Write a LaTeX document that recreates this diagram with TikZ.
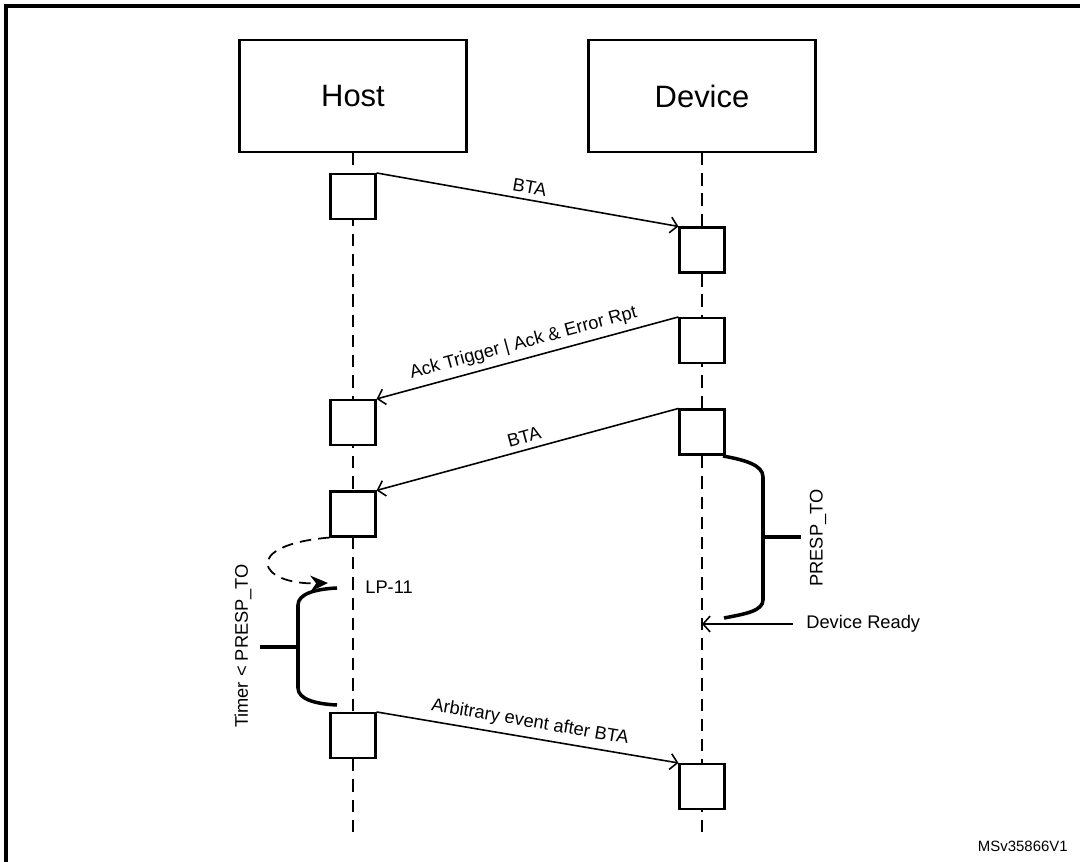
\documentclass[tikz,border=0pt]{standalone}
\usepackage{fontspec}
\setmainfont{Liberation Sans}
\usetikzlibrary{arrows.meta}
\tikzset{
  head/.style={draw,line width=1.2pt,minimum width=4.54cm,minimum height=2.24cm,inner sep=0pt,font=\fontsize{17.6}{20}\selectfont},
  act/.style={draw,fill=white,line width=1.2pt,minimum size=0.9cm,inner sep=0pt},
  lifeline/.style={line width=1pt,dash pattern=on 7pt off 4.5pt},
  msg/.style={line width=0.9pt,-{Straight Barb[length=4pt,width=9pt]}},
  lbl/.style={font=\fontsize{10.4}{12}\selectfont},
  bracket/.style={line width=2pt}
}
\newcommand*\actbox[3]{\node[act] (#1) at (#2,#3) {};}

\begin{document}
\begin{tikzpicture}[x=0.02cm,y=-0.02cm]
\useasboundingbox (0,0) rectangle (1080,862);

% frame
\draw[line width=2.2pt] (6,862) -- (6,6) -- (1080,6);

% heads and lifelines
\node[head] (host) at (353,96) {Host};
\node[head] (dev) at (702,96) {Device};
\coordinate (hostend) at (353,840);
\coordinate (devend) at (702,840);
\draw[lifeline] (host.south) -- (hostend);
\draw[lifeline] (dev.south) -- (devend);

% activation boxes
\foreach \n/\x/\y in {h1/353/196.5, d1/702/250, d2/702/340.5, h2/353/422.5,
                      d3/702/432, h3/353/514, h4/353/735.5, d4/702/786.5}
  {\actbox{\n}{\x}{\y}}

% messages
\draw[msg] (h1.north east) -- node[lbl,sloped,above] (bta1) {BTA} (d1.north west);
\draw[msg] (d2.north west) -- node[lbl,sloped,above] (ack) {Ack Trigger | Ack \& Error Rpt} (h2.north east);
\draw[msg] (d3.north west) -- node[lbl,sloped,above] (bta2) {BTA} (h3.north east);
\draw[msg] (h4.north east) -- node[lbl,sloped,above] (arb) {Arbitrary event after BTA} (d4.north west);

% LP-11 loop
\coordinate (lp) at (328,583);
\node[lbl,anchor=west,inner sep=0pt] (lptxt) at (365,587) {LP-11};
\draw[line width=1pt,dash pattern=on 6.5pt off 4pt,-{Stealth[length=10pt,width=9pt]}]
  (h3.south west) .. controls (240,545) and (258,585) .. (lp);

% device ready
\coordinate (ready) at (702,624);
\node[lbl,anchor=west,inner xsep=7.4pt] (readytxt) at (793,624) {Device Ready};
\draw[msg] (readytxt.west) -- (ready);

% brackets
\draw[bracket] (723,456) .. controls (745,460) and (763,465) .. (763,477)
  -- (763,600) .. controls (763,611) and (745,614) .. (724,618);
\draw[bracket] (763,537) -- (801,537);
\node[lbl,rotate=90] (presp) at (818,538) {PRESP\_TO};

\draw[bracket] (337,588) .. controls (315,589) and (298,594) .. (298,605)
  -- (298,688) .. controls (298,699) and (315,704) .. (337,705);
\draw[bracket] (298,647) -- (260,647);
\node[lbl,rotate=90] (timer) at (243,646) {Timer < PRESP\_TO};

\node[font=\fontsize{8.5}{10}\selectfont,anchor=east,inner sep=0pt] (ref) at (1068,846) {MSv35866V1};
\end{tikzpicture}
\end{document}
